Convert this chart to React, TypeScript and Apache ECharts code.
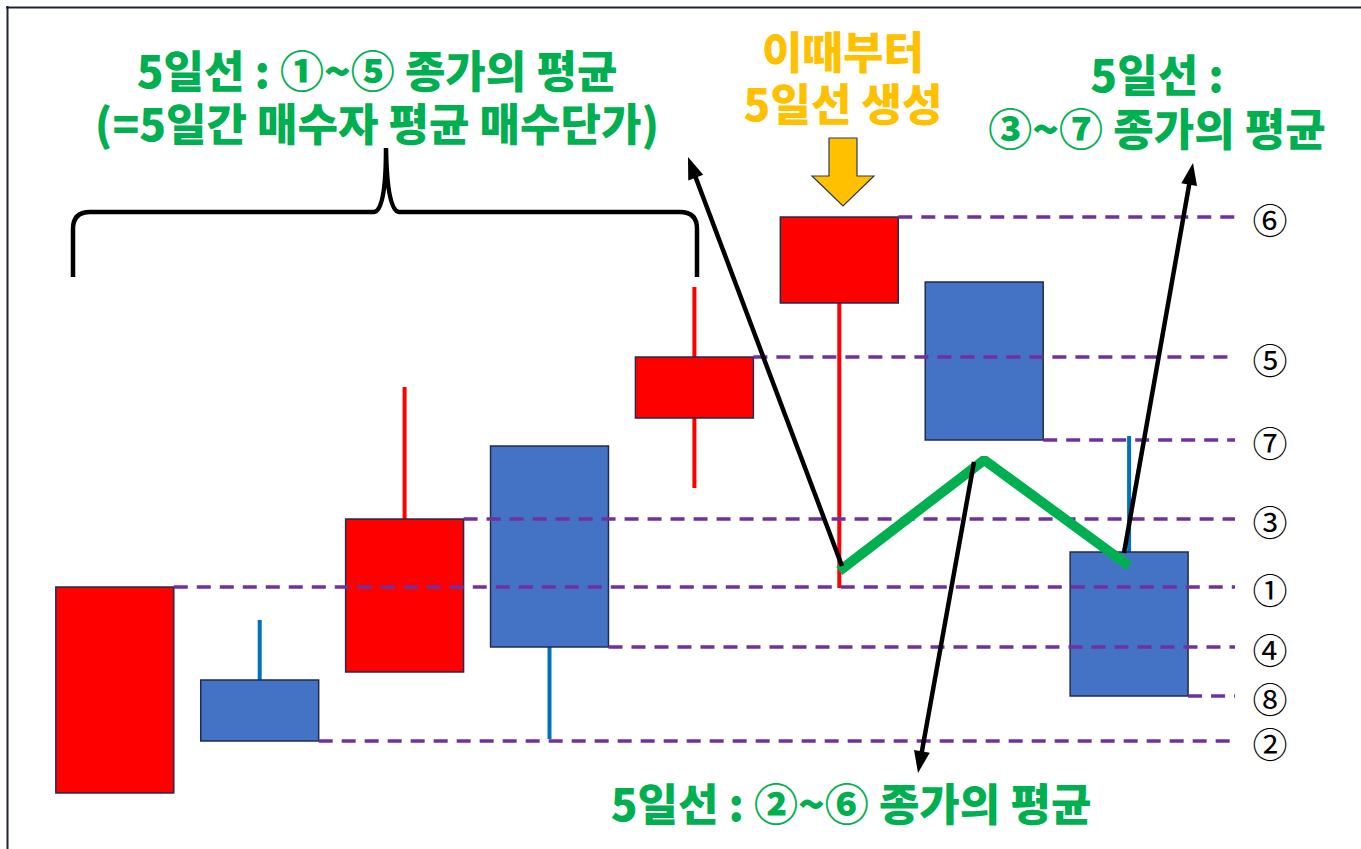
import React, { useEffect, useRef } from "react";
import * as echarts from "echarts";

// ---- data (price units) ----
const days = ["D1", "D2", "D3", "D4", "D5", "D6", "D7", "D8"];
const opens = [56, 169, 177, 403, 431, 546, 567, 297];
const closes = [262, 108, 330, 202, 492, 632, 409, 153];
const lows = [56, 108, 177, 110, 361, 261, 409, 153];
const highs = [262, 229, 462, 403, 562, 632, 567, 413];
const closeLabels = ["①", "②", "③", "④", "⑤", "⑥", "⑦", "⑧"];
const ma5 = [null, null, null, null, null, 278, 389, 283];

const titleLeft = "5일선 : ①~⑤ 종가의 평균\n(=5일간 매수자 평균 매수단가)";
const titleMid = "이때부터\n5일선 생성";
const titleRight = "5일선 :\n③~⑦ 종가의 평균";
const titleBottom = "5일선 : ②~⑥ 종가의 평균";

const GREEN = "#00B050";
const ORANGE = "#FFC000";
const KFONT = "'Noto Sans CJK KR', 'Noto Sans', sans-serif";

function arrow(x1: number, y1: number, x2: number, y2: number) {
  const dx = x2 - x1;
  const dy = y2 - y1;
  const len = Math.sqrt(dx * dx + dy * dy);
  const ux = dx / len;
  const uy = dy / len;
  const hl = 22;
  const hw = 8;
  const bx = x2 - ux * hl;
  const by = y2 - uy * hl;
  return [
    {
      type: "line",
      z: 20,
      shape: { x1, y1, x2: bx + ux * 2, y2: by + uy * 2 },
      style: { stroke: "#000", lineWidth: 4.5 },
    },
    {
      type: "polygon",
      z: 20,
      shape: {
        points: [
          [x2, y2],
          [bx - uy * hw, by + ux * hw],
          [bx + uy * hw, by - ux * hw],
        ],
      },
      style: { fill: "#000" },
    },
  ];
}

function txt(text: string, x: number, y: number, color: string, lh = 52) {
  return {
    type: "text",
    z: 20,
    x,
    y,
    style: {
      text,
      fill: color,
      fontFamily: KFONT,
      fontWeight: 900,
      fontSize: 44,
      lineHeight: lh,
      align: "center",
      verticalAlign: "middle",
    },
  };
}

let braceRegistered = false;

export default function App() {
  const ref = useRef<HTMLDivElement>(null);

  useEffect(() => {
    if (!ref.current) return;
    if (!braceRegistered) {
      const d =
        "M73,277 L73,229 Q73,212 90,212 L374,212 Q386,211 386,148 Q387,211 399,212 L680,212 Q697,212 697,229 L697,277";
      echarts.graphic.registerShape("brace", echarts.graphic.extendPath(d, {}));
      braceRegistered = true;
    }
    const chart = echarts.init(ref.current, null, { renderer: "svg" });

    const candleData = days.map((_, i) => [i, opens[i], closes[i], lows[i], highs[i]]);
    const levelData = days.map((_, i) => [i, closes[i]]);
    const maData = ma5
      .map((v, i) => (v == null ? null : [i, v]))
      .filter((v) => v != null);

    const half = 0.407;

    const option: any = {
      animation: false,
      backgroundColor: "#ffffff",
      grid: { left: 0, right: 0, top: 0, bottom: 0, containLabel: false },
      xAxis: { type: "value", min: -0.7923, max: 8.6004, show: false },
      yAxis: { type: "value", min: 0, max: 849, show: false },
      series: [
        {
          type: "custom",
          name: "candles",
          z: 2,
          data: candleData,
          encode: { x: 0, y: [1, 2, 3, 4] },
          renderItem: (params: any, api: any) => {
            const x = api.value(0);
            const o = api.value(1);
            const c = api.value(2);
            const l = api.value(3);
            const h = api.value(4);
            const up = c >= o;
            const tl = api.coord([x - half, Math.max(o, c)]);
            const br = api.coord([x + half, Math.min(o, c)]);
            const ph = api.coord([x, h]);
            const pl = api.coord([x, l]);
            return {
              type: "group",
              children: [
                {
                  type: "line",
                  shape: { x1: ph[0], y1: ph[1], x2: pl[0], y2: pl[1] },
                  style: { stroke: up ? "#FF0000" : "#0070C0", lineWidth: 4 },
                },
                {
                  type: "rect",
                  shape: { x: tl[0], y: tl[1], width: br[0] - tl[0], height: br[1] - tl[1] },
                  style: {
                    fill: up ? "#FF0000" : "#4472C4",
                    stroke: "#1F2D4A",
                    lineWidth: 1.5,
                  },
                },
              ],
            };
          },
        },
        {
          type: "custom",
          name: "levels",
          z: 3,
          data: levelData,
          encode: { x: 0, y: 1 },
          renderItem: (params: any, api: any) => {
            const x = api.value(0);
            const v = api.value(1);
            const a = api.coord([x + half, v]);
            const b = api.coord([7.731, v]);
            const t = api.coord([7.972, v]);
            return {
              type: "group",
              children: [
                {
                  type: "line",
                  shape: { x1: a[0], y1: a[1], x2: b[0], y2: b[1] },
                  style: { stroke: "#7030A0", lineWidth: 3.5, lineDash: [14, 9] },
                },
                {
                  type: "text",
                  x: t[0],
                  y: t[1] + 1,
                  style: {
                    text: closeLabels[params.dataIndex],
                    fill: "#000",
                    font: "35px 'Noto Sans CJK JP', 'DejaVu Sans', sans-serif",
                    align: "center",
                    verticalAlign: "middle",
                  },
                },
              ],
            };
          },
        },
        {
          type: "line",
          name: "5일선",
          z: 4,
          data: maData,
          symbol: "none",
          lineStyle: { color: GREEN, width: 10 },
        },
      ],
      graphic: [
        {
          type: "line",
          shape: { x1: 6, y1: 7.5, x2: 1361, y2: 7.5 },
          style: { stroke: "#1F2530", lineWidth: 2 },
        },
        {
          type: "line",
          shape: { x1: 7.5, y1: 6, x2: 7.5, y2: 849 },
          style: { stroke: "#1F2530", lineWidth: 2 },
        },
        {
          type: "brace",
          z: 20,
          x: 0,
          y: 0,
          style: { stroke: "#000", lineWidth: 4.5, fill: "none" },
        },
        {
          type: "polygon",
          z: 20,
          shape: {
            points: [
              [829, 138],
              [857, 138],
              [857, 176],
              [874, 176],
              [843, 206],
              [812, 176],
              [829, 176],
            ],
          },
          style: { fill: ORANGE, stroke: "#2F3B55", lineWidth: 1.2 },
        },
        ...arrow(842, 566, 688, 157),
        ...arrow(974, 462, 918, 773),
        ...arrow(1124, 553, 1193, 163),
        txt(titleLeft, 377, 95, GREEN, 53),
        txt(titleMid, 843, 76, ORANGE, 52),
        txt(titleRight, 1157, 100, GREEN, 54),
        txt(titleBottom, 851, 802, GREEN),
      ],
    };

    chart.setOption(option);
    return () => {
      chart.dispose();
    };
  }, []);

  return (
    <div
      ref={ref}
      style={{
        position: "fixed",
        left: 0,
        top: 0,
        width: 1361,
        height: 849,
        background: "#fff",
      }}
    />
  );
}
